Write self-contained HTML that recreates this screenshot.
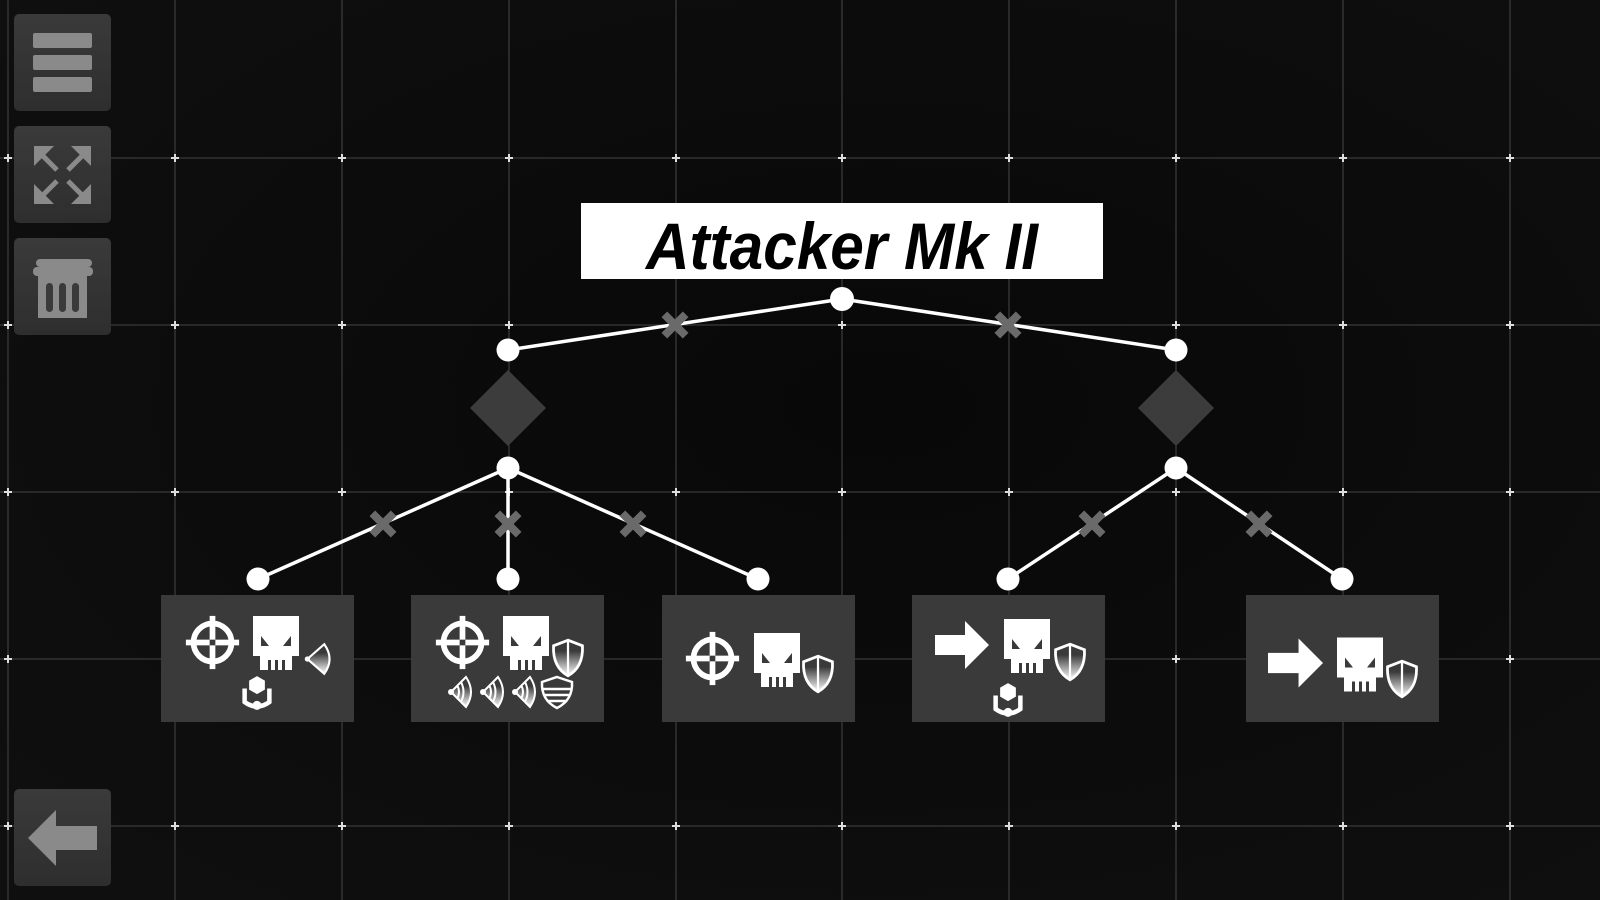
<!DOCTYPE html>
<html><head><meta charset="utf-8"><style>
html,body{margin:0;padding:0;background:#0b0b0b;width:1600px;height:900px;overflow:hidden}
</style></head><body>
<svg width="1600" height="900" viewBox="0 0 1600 900" xmlns="http://www.w3.org/2000/svg">
<defs>
<radialGradient id="bg" cx="0.55" cy="0.45" r="0.7"><stop offset="0" stop-color="#080808"/><stop offset="1" stop-color="#0f0f0f"/></radialGradient>
<linearGradient id="btn" x1="0" y1="0" x2="0" y2="1"><stop offset="0" stop-color="#3a3a3a"/><stop offset="1" stop-color="#2e2e2e"/></linearGradient>
<linearGradient id="sh" x1="0" y1="0" x2="0" y2="1"><stop offset="0.3" stop-color="#fff" stop-opacity="0"/><stop offset="1" stop-color="#fff"/></linearGradient>
<symbol id="cross" viewBox="-30 -30 60 60"><circle r="20" fill="none" stroke="#fff" stroke-width="6"/><rect x="-28" y="-3" width="56" height="6" fill="#fff"/><rect x="-3" y="-28" width="6" height="56" fill="#fff"/><rect x="-3" y="-3" width="6" height="6" fill="#3a3a3a"/></symbol>
<symbol id="skull" viewBox="0 0 46 54"><rect x="0" y="0" width="46" height="40" fill="#fff"/><rect x="7" y="38" width="32" height="16" fill="#fff"/><rect x="15" y="44" width="3" height="10" fill="#3a3a3a"/><rect x="22" y="44" width="3" height="10" fill="#3a3a3a"/><rect x="29" y="44" width="3" height="10" fill="#3a3a3a"/><polygon points="8,20 16,30 8,30" fill="#3a3a3a"/><polygon points="38,20 30,30 38,30" fill="#3a3a3a"/></symbol>
<symbol id="shield" viewBox="0 0 32 36"><path d="M16 2 L29 7 Q30 26 16 34 Q2 26 3 7 Z" fill="url(#sh)" stroke="#fff" stroke-width="2.5"/><line x1="16" y1="2" x2="16" y2="34" stroke="#fff" stroke-width="2"/></symbol>
<symbol id="arrow" viewBox="0 0 54 48"><polygon points="0,14 30,14 30,0 54,24 30,48 30,34 0,34" fill="#fff"/></symbol>
<symbol id="person" viewBox="0 0 30 32"><polygon points="15,1 22,5 22,13 15,17 8,13 8,5" fill="#fff"/><path d="M4 12 V24 Q15 32 26 24 V12" fill="none" stroke="#fff" stroke-width="4"/><circle cx="15" cy="27" r="4" fill="#fff"/></symbol>
<symbol id="snd" viewBox="0 0 30 36"><path d="M4 18 L20 4 Q30 18 20 32 Z" fill="url(#sh)" stroke="#fff" stroke-width="2"/><circle cx="4" cy="18" r="2.5" fill="#fff"/></symbol>
<symbol id="wave" viewBox="0 0 30 36"><circle cx="5" cy="18" r="3" fill="#fff"/><path d="M5 18 L20 3 Q30 18 20 33 Z" fill="url(#sh)" stroke="#fff" stroke-width="2"/><path d="M11 11 Q15 18 11 25 M15 8 Q20 18 15 28" fill="none" stroke="#fff" stroke-width="2"/></symbol>
<symbol id="xm" viewBox="-12 -12 24 24"><path d="M-8 -8 L8 8 M8 -8 L-8 8" stroke="#6a6a6a" stroke-width="6"/></symbol>
</defs>
<rect width="1600" height="900" fill="url(#bg)"/>
<g stroke="#3a3a3a" stroke-width="1.3">
<line x1="8" y1="0" x2="8" y2="900"/><line x1="175" y1="0" x2="175" y2="900"/><line x1="342" y1="0" x2="342" y2="900"/><line x1="509" y1="0" x2="509" y2="900"/><line x1="676" y1="0" x2="676" y2="900"/><line x1="842" y1="0" x2="842" y2="900"/><line x1="1009" y1="0" x2="1009" y2="900"/><line x1="1176" y1="0" x2="1176" y2="900"/><line x1="1343" y1="0" x2="1343" y2="900"/><line x1="1510" y1="0" x2="1510" y2="900"/>
<line x1="0" y1="158" x2="1600" y2="158"/><line x1="0" y1="325" x2="1600" y2="325"/><line x1="0" y1="492" x2="1600" y2="492"/><line x1="0" y1="659" x2="1600" y2="659"/><line x1="0" y1="826" x2="1600" y2="826"/>
</g>
<g stroke="#ddd" stroke-width="2">
<path d="M4 158h8M8 154v8M171 158h8M175 154v8M338 158h8M342 154v8M505 158h8M509 154v8M672 158h8M676 154v8M838 158h8M842 154v8M1005 158h8M1009 154v8M1172 158h8M1176 154v8M1339 158h8M1343 154v8M1506 158h8M1510 154v8"/>
<path d="M4 325h8M8 321v8M171 325h8M175 321v8M338 325h8M342 321v8M505 325h8M509 321v8M672 325h8M676 321v8M838 325h8M842 321v8M1005 325h8M1009 321v8M1172 325h8M1176 321v8M1339 325h8M1343 321v8M1506 325h8M1510 321v8"/>
<path d="M4 492h8M8 488v8M171 492h8M175 488v8M338 492h8M342 488v8M505 492h8M509 488v8M672 492h8M676 488v8M838 492h8M842 488v8M1005 492h8M1009 488v8M1172 492h8M1176 488v8M1339 492h8M1343 488v8M1506 492h8M1510 488v8"/>
<path d="M4 659h8M8 655v8M171 659h8M175 655v8M338 659h8M342 655v8M505 659h8M509 655v8M672 659h8M676 655v8M838 659h8M842 655v8M1005 659h8M1009 655v8M1172 659h8M1176 655v8M1339 659h8M1343 655v8M1506 659h8M1510 655v8"/>
<path d="M4 826h8M8 822v8M171 826h8M175 822v8M338 826h8M342 822v8M505 826h8M509 822v8M672 826h8M676 822v8M838 826h8M842 822v8M1005 826h8M1009 822v8M1172 826h8M1176 822v8M1339 826h8M1343 822v8M1506 826h8M1510 822v8"/>
</g>
<!-- sidebar -->
<rect x="14" y="14" width="97" height="97" rx="5" fill="url(#btn)"/>
<g fill="#8a8a8a"><rect x="33" y="33" width="59" height="15" rx="2"/><rect x="33" y="55" width="59" height="15" rx="2"/><rect x="33" y="77" width="59" height="15" rx="2"/></g>
<rect x="14" y="126" width="97" height="97" rx="5" fill="url(#btn)"/>
<g fill="#8a8a8a" stroke="#8a8a8a" stroke-width="5"><line x1="40" y1="153" x2="57" y2="170"/><line x1="85" y1="153" x2="68" y2="170"/><line x1="40" y1="198" x2="57" y2="181"/><line x1="85" y1="198" x2="68" y2="181"/>
<polygon stroke="none" points="34,146 54,146 34,166"/><polygon stroke="none" points="91,146 71,146 91,166"/><polygon stroke="none" points="34,204 54,204 34,184"/><polygon stroke="none" points="91,204 71,204 91,184"/></g>
<rect x="14" y="238" width="97" height="97" rx="5" fill="url(#btn)"/>
<g fill="#8a8a8a"><rect x="36" y="259" width="56" height="8" rx="4"/><rect x="33" y="267" width="60" height="9" rx="4"/><rect x="38" y="276" width="49" height="42"/></g>
<g fill="#3a3a3a"><rect x="46" y="283" width="7" height="29" rx="3.5"/><rect x="59" y="283" width="7" height="29" rx="3.5"/><rect x="72" y="283" width="7" height="29" rx="3.5"/></g>
<rect x="14" y="789" width="97" height="97" rx="5" fill="url(#btn)"/>
<polygon points="28,838 56,810 56,826 97,826 97,850 56,850 56,866" fill="#8a8a8a"/>
<!-- title -->
<rect x="581" y="203" width="522" height="76" fill="#fff"/>
<text x="842" y="269" text-anchor="middle" font-family="Liberation Sans, sans-serif" font-weight="bold" font-style="italic" font-size="66" textLength="392" lengthAdjust="spacingAndGlyphs" fill="#000">Attacker Mk II</text>
<!-- edges -->
<g stroke="#fff" stroke-width="3.5" fill="none">
<line x1="842" y1="299" x2="508" y2="350"/><line x1="842" y1="299" x2="1176" y2="350"/>
<line x1="508" y1="468" x2="258" y2="579"/><line x1="508" y1="468" x2="508" y2="579"/><line x1="508" y1="468" x2="758" y2="579"/>
<line x1="1176" y1="468" x2="1008" y2="579"/><line x1="1176" y1="468" x2="1342" y2="579"/>
</g>
<g>
<use href="#xm" x="659" y="309" width="32" height="32"/><use href="#xm" x="992" y="309" width="32" height="32"/>
<use href="#xm" x="367" y="508" width="32" height="32"/><use href="#xm" x="492" y="508" width="32" height="32"/><use href="#xm" x="617" y="508" width="32" height="32"/>
<use href="#xm" x="1076" y="508" width="32" height="32"/><use href="#xm" x="1243" y="508" width="32" height="32"/>
</g>
<polygon points="508,370 546,408 508,446 470,408" fill="#3c3c3c"/>
<polygon points="1176,370 1214,408 1176,446 1138,408" fill="#3c3c3c"/>
<g fill="#fff">
<circle cx="842" cy="299" r="12"/><circle cx="508" cy="350" r="11.5"/><circle cx="1176" cy="350" r="11.5"/>
<circle cx="508" cy="468" r="11.5"/><circle cx="1176" cy="468" r="11.5"/>
<circle cx="258" cy="579" r="11.5"/><circle cx="508" cy="579" r="11.5"/><circle cx="758" cy="579" r="11.5"/><circle cx="1008" cy="579" r="11.5"/><circle cx="1342" cy="579" r="11.5"/>
</g>
<!-- boxes -->
<g fill="#3a3a3a"><rect x="161" y="595" width="193" height="127"/><rect x="411" y="595" width="193" height="127"/><rect x="662" y="595" width="193" height="127"/><rect x="912" y="595" width="193" height="127"/><rect x="1246" y="595" width="193" height="127"/></g>
<use href="#cross" x="184" y="614" width="57" height="57"/>
<use href="#skull" x="253" y="616" width="46" height="54"/>
<use href="#snd" x="303" y="640" width="32" height="38"/>
<use href="#person" x="240" y="675" width="34" height="36"/>
<use href="#cross" x="434" y="614" width="57" height="57"/>
<use href="#skull" x="503" y="616" width="46" height="54"/>
<use href="#shield" x="550" y="638" width="36" height="40"/>
<use href="#wave" x="446" y="674" width="30" height="36"/>
<use href="#wave" x="478" y="674" width="30" height="36"/>
<use href="#wave" x="510" y="674" width="30" height="36"/>
<path d="M557 677 L572 682 Q573 700 557 708 Q541 700 542 682 Z" fill="none" stroke="#fff" stroke-width="2.5"/>
<path d="M543 689h28M544 695h26M547 701h20" stroke="#fff" stroke-width="2.5"/>
<use href="#cross" x="684" y="630" width="57" height="57"/>
<use href="#skull" x="754" y="633" width="46" height="54"/>
<use href="#shield" x="800" y="654" width="36" height="40"/>
<use href="#arrow" x="935" y="621" width="54" height="48"/>
<use href="#skull" x="1004" y="619" width="46" height="54"/>
<use href="#shield" x="1052" y="642" width="36" height="40"/>
<use href="#person" x="991" y="682" width="34" height="36"/>
<use href="#arrow" x="1268" y="638" width="55" height="50"/>
<use href="#skull" x="1337" y="637" width="46" height="55"/>
<use href="#shield" x="1384" y="659" width="36" height="40"/>
</svg>
</body></html>
